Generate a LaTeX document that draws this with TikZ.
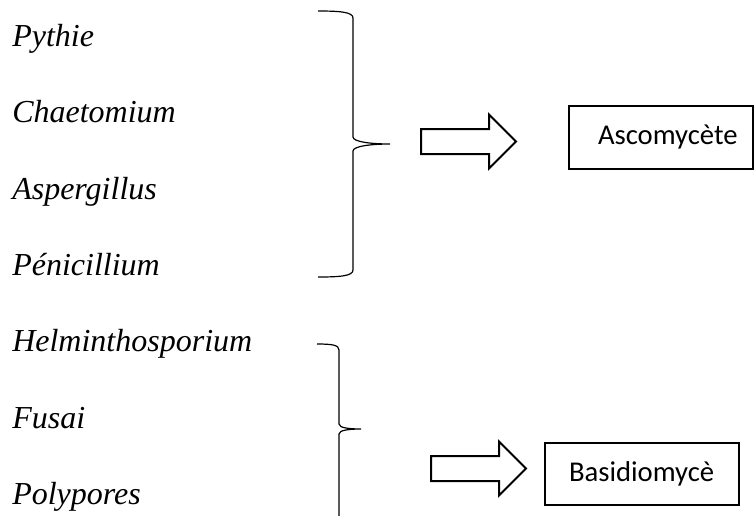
\documentclass[tikz,border=0pt]{standalone}
\usepackage{fontspec}
\setmainfont{Liberation Serif}
\newfontfamily\boxfont{Carlito}
\usepackage{tikz}
\usetikzlibrary{arrows}

\tikzset{
  genre/.style={anchor=base west, inner sep=0pt, font=\fontsize{24}{28}\selectfont\itshape},
  taxbox/.style={draw, line width=1.5pt, anchor=north west, inner ysep=0pt, align=left, font=\fontsize{21.5}{26}\selectfont\boxfont},
  curlybrace/.style={line width=0.9pt},
  blockarrow/.style={draw, line width=1.5pt, miter limit=10}
}

\begin{document}
\begin{tikzpicture}[x=0.75pt,y=0.75pt,yscale=-1,xscale=1]
\path [use as bounding box] (0,0) rectangle (754,515);

% Text Node
\draw (12,46.5) node (pythie) [genre] {Pythie};
% Text Node
\draw (12,122.8) node (chaetomium) [genre] {Chaetomium};
% Text Node
\draw (12,199.1) node (aspergillus) [genre] {Aspergillus};
% Text Node
\draw (12,275.4) node (penicillium) [genre] {Pénicillium};
% Text Node
\draw (12,351.7) node (helmintho) [genre] {Helminthosporium};
% Text Node
\draw (12,428) node (fusai) [genre] {Fusai};
% Text Node
\draw (12,504.3) node (polypores) [genre] {Polypores};

%Right Brace
\draw [curlybrace] (318,11) .. controls (340,11) and (353,12) .. (353,18) -- (353,137) .. controls (353,142) and (372,144) .. (390,144) .. controls (372,144) and (353,146) .. (353,151) -- (353,270) .. controls (353,276) and (340,277) .. (318,277) ;
%Right Brace
\draw [curlybrace] (317,344) .. controls (332,344) and (339,345) .. (339,350) -- (339,424) .. controls (339,428) and (350,429) .. (361,429) .. controls (350,429) and (339,430) .. (339,434) -- (339,517) .. controls (339,521) and (332,522) .. (317,522) ;

%Right Arrow
\draw [blockarrow] (421,129) -- (489,129) -- (489,114.5) -- (516,141.5) -- (489,168.5) -- (489,154) -- (421,154) -- cycle ;
%Right Arrow
\draw [blockarrow] (431,456) -- (499,456) -- (499,441.5) -- (526,468.5) -- (499,495.5) -- (499,481) -- (431,481) -- cycle ;

% Text Box
\draw (568,105) node (asco) [taxbox, inner xsep=21.75pt, text width=94.5pt, minimum height=47.25pt] {Ascomycète};
% Text Box
\draw (544,442) node (basidio) [taxbox, inner xsep=18pt, text width=109.5pt, minimum height=46.5pt] {Basidiomycè};

\end{tikzpicture}
\end{document}
